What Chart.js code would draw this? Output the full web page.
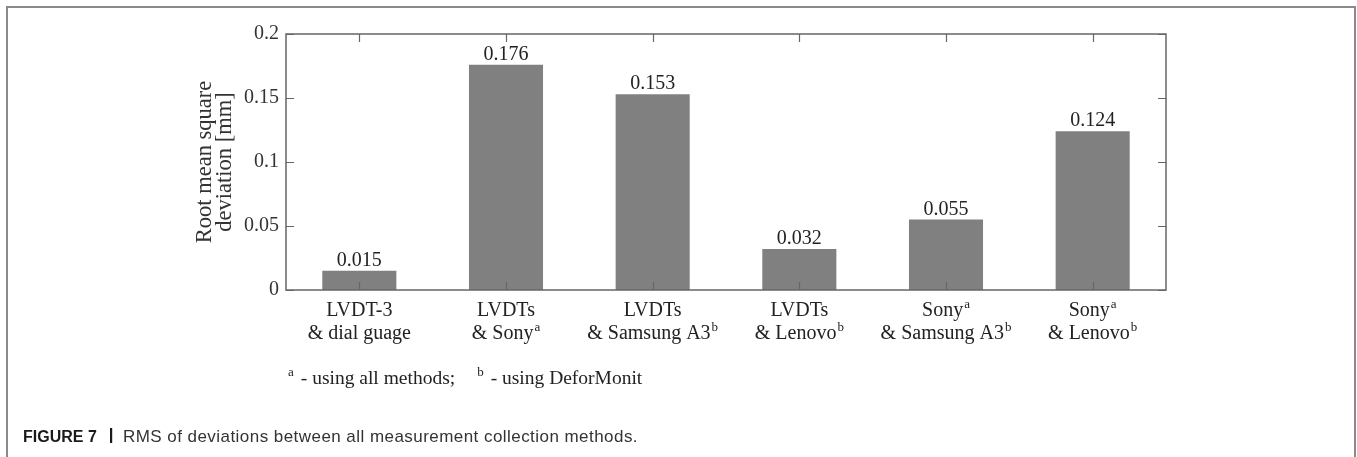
<!DOCTYPE html>
<html>
<head>
<meta charset="utf-8">
<script src="https://cdn.jsdelivr.net/npm/chart.js@4.4.1/dist/chart.umd.min.js"></script>
<style>
  html, body { margin: 0; padding: 0; background: #fff; }
  #wrap { position: relative; width: 1357px; height: 457px; overflow: hidden; }
  canvas { display: block; }
</style>
</head>
<body>
<div id="wrap"><canvas id="c" width="1357" height="457"></canvas></div>
<script>
// Category labels: each entry is [line1, line2]; "^x" marks a superscript note
const categories = [
  ['LVDT-3', '& dial guage'],
  ['LVDTs', '& Sony^a'],
  ['LVDTs', '& Samsung A3^b'],
  ['LVDTs', '& Lenovo^b'],
  ['Sony^a', '& Samsung A3^b'],
  ['Sony^a', '& Lenovo^b']
];
// Root mean square deviation [mm]
const rmsValues = [0.015, 0.176, 0.153, 0.032, 0.055, 0.124];
const yTickValues = [0, 0.05, 0.1, 0.15, 0.2];
const yTickLabels = ['0', '0.05', '0.1', '0.15', '0.2'];
const yTitle = ['Root mean square', 'deviation [mm]'];
const footnotes = [['a', '- using all methods;'], ['b', '- using DeforMonit']];
const captionLead = 'FIGURE 7';
const captionText = 'RMS of deviations between all measurement collection methods.';

const SERIF = '"Liberation Serif", "Times New Roman", Times, serif';
const SANS = '"Liberation Sans", Arial, Helvetica, sans-serif';
const AXIS = '#666';
const INK = '#222';

// Draws text with an optional trailing superscript ("Sony^a")
function drawRich(ctx, text, x, y, size, align) {
  const parts = text.split('^');
  const base = parts[0];
  const sup = parts[1] || '';
  const supSize = Math.round(size * 0.66);
  ctx.font = size + 'px ' + SERIF;
  const wb = ctx.measureText(base).width;
  ctx.font = supSize + 'px ' + SERIF;
  const ws = sup ? ctx.measureText(sup).width + 1 : 0;
  const x0 = align === 'center' ? x - (wb + ws) / 2 : x;
  ctx.textAlign = 'left';
  ctx.textBaseline = 'alphabetic';
  ctx.font = size + 'px ' + SERIF;
  ctx.fillText(base, x0, y);
  if (sup) {
    ctx.font = supSize + 'px ' + SERIF;
    ctx.fillText(sup, x0 + wb + 1, y - size * 0.42);
  }
  return wb + ws;
}

const decorations = {
  id: 'decorations',
  afterDatasetsDraw(chart) {
    const ctx = chart.ctx;
    const area = chart.chartArea;
    const xs = chart.scales.x;
    const ys = chart.scales.y;
    ctx.save();

    // Panel frame (left, top, right edges)
    ctx.strokeStyle = '#8a8a8a';
    ctx.lineWidth = 2;
    ctx.beginPath();
    ctx.moveTo(7, 457);
    ctx.lineTo(7, 7);
    ctx.lineTo(1355, 7);
    ctx.lineTo(1355, 457);
    ctx.stroke();

    // Axes box
    ctx.strokeStyle = AXIS;
    ctx.lineWidth = 1.5;
    ctx.strokeRect(area.left, area.top, area.right - area.left, area.bottom - area.top);

    // Inward tick marks on all four sides
    const tl = 8;
    ctx.lineWidth = 1.2;
    ctx.beginPath();
    yTickValues.forEach(v => {
      const py = Math.round(ys.getPixelForValue(v)) + 0.5;
      ctx.moveTo(area.left, py); ctx.lineTo(area.left + tl, py);
      ctx.moveTo(area.right, py); ctx.lineTo(area.right - tl, py);
    });
    categories.forEach((c, i) => {
      const px = Math.round(xs.getPixelForValue(i)) + 0.5;
      ctx.moveTo(px, area.bottom); ctx.lineTo(px, area.bottom - tl);
      ctx.moveTo(px, area.top); ctx.lineTo(px, area.top + tl);
    });
    ctx.stroke();

    // Value labels above the bars
    ctx.fillStyle = INK;
    const meta = chart.getDatasetMeta(0);
    meta.data.forEach((bar, i) => {
      ctx.font = '20px ' + SERIF;
      ctx.textAlign = 'center';
      ctx.textBaseline = 'alphabetic';
      ctx.fillText(rmsValues[i].toFixed(3), bar.x, bar.y - 5);
    });

    // Two-line category labels with superscripts
    categories.forEach((lines, i) => {
      const px = xs.getPixelForValue(i);
      drawRich(ctx, lines[0], px, area.bottom + 26, 20, 'center');
      drawRich(ctx, lines[1], px, area.bottom + 49, 20, 'center');
    });

    // Footnote line
    let fx = area.left + 2;
    const fy = 384;
    footnotes.forEach(([mark, text]) => {
      ctx.font = '13px ' + SERIF;
      ctx.textAlign = 'left';
      ctx.fillText(mark, fx, fy - 8);
      fx += ctx.measureText(mark).width + 7;
      ctx.font = '19.5px ' + SERIF;
      ctx.fillText(text, fx, fy);
      fx += ctx.measureText(text).width + 22;
    });

    // Figure caption
    ctx.textAlign = 'left';
    ctx.fillStyle = '#1a1a1a';
    ctx.font = 'bold 16px ' + SANS;
    ctx.fillText(captionLead, 23, 442);
    ctx.fillRect(110, 428, 2.2, 15);
    ctx.fillStyle = '#333';
    ctx.font = '17px ' + SANS;
    ctx.letterSpacing = '0.45px';
    ctx.fillText(captionText, 123, 442);
    ctx.letterSpacing = '0px';

    ctx.restore();
  }
};

new Chart(document.getElementById('c'), {
  type: 'bar',
  data: {
    labels: categories.map(l => l.join(' ').replace(/\^/g, '')),
    datasets: [{
      data: rmsValues,
      backgroundColor: '#808080',
      borderWidth: 0,
      barPercentage: 0.505,
      categoryPercentage: 1.0
    }]
  },
  options: {
    responsive: false,
    devicePixelRatio: 1,
    animation: false,
    layout: { padding: { top: 34, left: 0, right: 191, bottom: 0 } },
    plugins: { legend: { display: false }, tooltip: { enabled: false } },
    scales: {
      x: {
        type: 'category',
        offset: true,
        grid: { display: false, drawTicks: false },
        border: { display: false },
        ticks: { display: false },
        afterFit(scale) { scale.height = 167; }
      },
      y: {
        min: 0,
        max: 0.2,
        grid: { display: false, drawTicks: false },
        border: { display: false },
        afterBuildTicks(scale) { scale.ticks = yTickValues.map(v => ({ value: v })); },
        ticks: {
          padding: 7,
          color: '#333',
          font: { family: SERIF, size: 20 },
          callback: (v, i) => yTickLabels[i]
        },
        title: {
          display: true,
          text: yTitle,
          color: '#333',
          font: { family: SERIF, size: 22.5, lineHeight: 0.9 },
          padding: { top: 195, bottom: 0 }
        },
        afterFit(scale) { scale.width = 286; }
      }
    }
  },
  plugins: [decorations]
});
</script>
</body>
</html>
